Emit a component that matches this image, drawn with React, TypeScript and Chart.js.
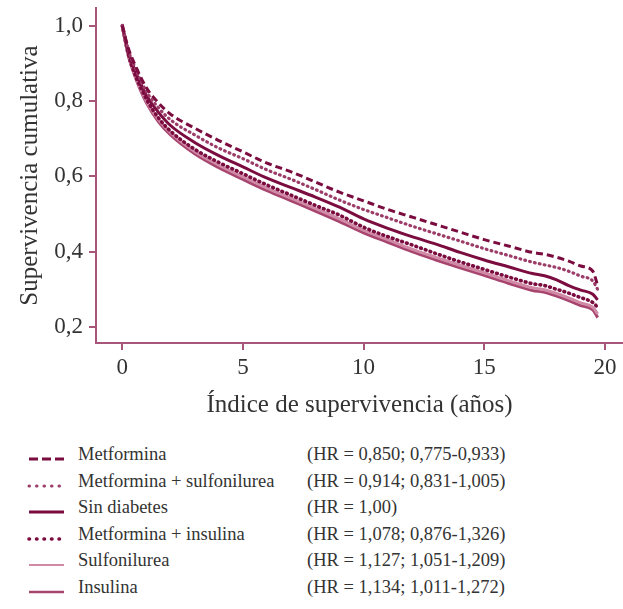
import React, { useEffect, useRef } from "react";
import { Chart, registerables } from "chart.js";

Chart.register(...registerables);

// Time points (years)
const times = [0, 0.25, 0.5, 1, 1.5, 2, 3, 4, 5, 6, 7, 8, 9, 10, 11, 12, 13, 14, 15, 16, 17, 17.5, 18, 18.5, 19, 19.5, 19.7];

const metformina = [1.0, 0.94, 0.9, 0.835, 0.795, 0.765, 0.728, 0.695, 0.665, 0.635, 0.612, 0.585, 0.558, 0.535, 0.512, 0.492, 0.472, 0.452, 0.432, 0.415, 0.398, 0.393, 0.385, 0.375, 0.362, 0.348, 0.31];
const metSulf = [1.0, 0.935, 0.893, 0.825, 0.782, 0.75, 0.71, 0.675, 0.647, 0.617, 0.592, 0.565, 0.537, 0.512, 0.49, 0.468, 0.448, 0.428, 0.408, 0.39, 0.372, 0.365, 0.358, 0.348, 0.335, 0.322, 0.3];
const sinDiabetes = [1.0, 0.93, 0.885, 0.815, 0.77, 0.735, 0.69, 0.655, 0.625, 0.595, 0.57, 0.545, 0.518, 0.487, 0.462, 0.44, 0.42, 0.398, 0.378, 0.36, 0.342, 0.336, 0.325, 0.31, 0.298, 0.287, 0.272];
const metIns = [1.0, 0.925, 0.875, 0.805, 0.755, 0.72, 0.672, 0.637, 0.607, 0.577, 0.55, 0.523, 0.497, 0.465, 0.44, 0.418, 0.395, 0.373, 0.353, 0.333, 0.315, 0.31, 0.3, 0.29, 0.278, 0.265, 0.252];
const sulfonilurea = [1.0, 0.922, 0.873, 0.8, 0.751, 0.716, 0.666, 0.63, 0.599, 0.569, 0.542, 0.515, 0.487, 0.457, 0.432, 0.407, 0.385, 0.364, 0.344, 0.323, 0.304, 0.299, 0.289, 0.277, 0.264, 0.252, 0.235];
const insulina = [1.0, 0.92, 0.87, 0.795, 0.745, 0.71, 0.66, 0.623, 0.592, 0.562, 0.535, 0.508, 0.48, 0.45, 0.425, 0.4, 0.378, 0.357, 0.337, 0.316, 0.297, 0.292, 0.282, 0.27, 0.257, 0.245, 0.225];

const seriesNames = ["Metformina", "Metformina + sulfonilurea", "Sin diabetes", "Metformina + insulina", "Sulfonilurea", "Insulina"];
const hrLabels = [
  "(HR = 0,850; 0,775-0,933)",
  "(HR = 0,914; 0,831-1,005)",
  "(HR = 1,00)",
  "(HR = 1,078; 0,876-1,326)",
  "(HR = 1,127; 1,051-1,209)",
  "(HR = 1,134; 1,011-1,272)",
];
const xTicks = [0, 5, 10, 15, 20];
const yTicks = [0.2, 0.4, 0.6, 0.8, 1.0];

const DARK = "#7b0c3f";
const MID = "#a8456f";
const LIGHT = "#d08aa6";
const DOTLIGHT = "#9c3c69";
const AXIS = "#a8557a";
const TEXT = "#333333";
const FONT = "'Liberation Serif', 'Times New Roman', serif";

type Style = { color: string; width: number; dash: number[]; cap: CanvasLineCap; svgDash: string; svgW: number; svgCap: string };
const styles: Style[] = [
  { color: DARK, width: 3, dash: [7, 4], cap: "butt", svgDash: "9,4", svgW: 3, svgCap: "butt" },
  { color: DOTLIGHT, width: 3.2, dash: [0.8, 4.2], cap: "round", svgDash: "0.5,7", svgW: 3, svgCap: "round" },
  { color: DARK, width: 3, dash: [], cap: "butt", svgDash: "", svgW: 3, svgCap: "butt" },
  { color: DARK, width: 3.6, dash: [0.8, 4.2], cap: "round", svgDash: "0.5,7", svgW: 3.6, svgCap: "round" },
  { color: LIGHT, width: 3, dash: [], cap: "butt", svgDash: "", svgW: 2, svgCap: "butt" },
  { color: MID, width: 3, dash: [], cap: "butt", svgDash: "", svgW: 2.6, svgCap: "butt" },
];

const allSeries = [metformina, metSulf, sinDiabetes, metIns, sulfonilurea, insulina];

export default function App() {
  const ref = useRef<HTMLCanvasElement | null>(null);

  useEffect(() => {
    if (!ref.current) return;
    const datasets = allSeries.map((vals, i) => ({
      label: seriesNames[i],
      data: times.map((t, j) => ({ x: t, y: vals[j] })),
      borderColor: styles[i].color,
      borderWidth: styles[i].width,
      borderDash: styles[i].dash,
      borderCapStyle: styles[i].cap,
      pointRadius: 0,
      fill: false,
      cubicInterpolationMode: "monotone" as const,
    }));
    const chart = new Chart(ref.current, {
      type: "line",
      data: { datasets },
      options: {
        animation: false,
        responsive: false,
        devicePixelRatio: 1,
        layout: { padding: { top: 8, left: 0, right: 0, bottom: 0 } },
        plugins: { legend: { display: false }, tooltip: { enabled: false } },
        scales: {
          x: {
            type: "linear",
            min: -1.09,
            max: 20.75,
            afterBuildTicks: (axis: any) => {
              axis.ticks = xTicks.map((v) => ({ value: v }));
            },
            afterFit: (axis: any) => {
              axis.height = 77;
              axis.paddingLeft = 0;
              axis.paddingRight = 0;
            },
            grid: { display: true, drawOnChartArea: false, drawTicks: true, tickLength: 7, color: AXIS, lineWidth: 2 },
            border: { display: true, color: AXIS, width: 2 },
            ticks: {
              color: TEXT,
              font: { family: FONT, size: 23 },
              padding: 4,
              maxRotation: 0,
              callback: (v: any) => String(v),
            },
            title: {
              display: true,
              text: "Índice de supervivencia (años)",
              color: TEXT,
              font: { family: FONT, size: 25 },
              padding: { top: 0, bottom: 0 },
            },
          },
          y: {
            type: "linear",
            min: 0.1575,
            max: 1.047,
            afterBuildTicks: (axis: any) => {
              axis.ticks = yTicks.map((v) => ({ value: v }));
            },
            afterFit: (axis: any) => {
              axis.width = 96;
              axis.paddingTop = 0;
              axis.paddingBottom = 0;
            },
            grid: { display: true, drawOnChartArea: false, drawTicks: true, tickLength: 7, color: AXIS, lineWidth: 2 },
            border: { display: true, color: AXIS, width: 2 },
            ticks: {
              color: TEXT,
              font: { family: FONT, size: 23 },
              padding: 6,
              callback: (v: any) => Number(v).toFixed(1).replace(".", ","),
            },
            title: {
              display: true,
              text: "Supervivencia cumulativa",
              color: TEXT,
              font: { family: FONT, size: 25 },
              padding: { top: 15, bottom: 0 },
            },
          },
        },
      },
    });
    return () => chart.destroy();
  }, []);

  const rowBaseline0 = 461;
  const pitch = 26.5;

  return (
    <div style={{ position: "absolute", left: 0, top: 0, width: 623, height: 609, background: "#fff", overflow: "hidden" }}>
      <canvas ref={ref} width={623} height={420} style={{ position: "absolute", left: 0, top: 0, width: 623, height: 420 }} />
      {seriesNames.map((name, i) => {
        const base = rowBaseline0 + pitch * i;
        const st = styles[i];
        return (
          <React.Fragment key={name}>
            <svg style={{ position: "absolute", left: 26, top: base - 10, width: 42, height: 16 }} width={42} height={16}>
              <line x1={3} y1={8} x2={38} y2={8} stroke={st.color} strokeWidth={st.svgW} strokeDasharray={st.svgDash || undefined} strokeLinecap={st.svgCap as any} />
            </svg>
            <div style={{ position: "absolute", left: 78, top: base - 17, fontFamily: FONT, fontSize: 18.5, lineHeight: "21px", color: TEXT, whiteSpace: "nowrap" }}>{name}</div>
            <div style={{ position: "absolute", left: 307, top: base - 17, fontFamily: FONT, fontSize: 18.5, lineHeight: "21px", color: TEXT, whiteSpace: "nowrap" }}>{hrLabels[i]}</div>
          </React.Fragment>
        );
      })}
    </div>
  );
}
